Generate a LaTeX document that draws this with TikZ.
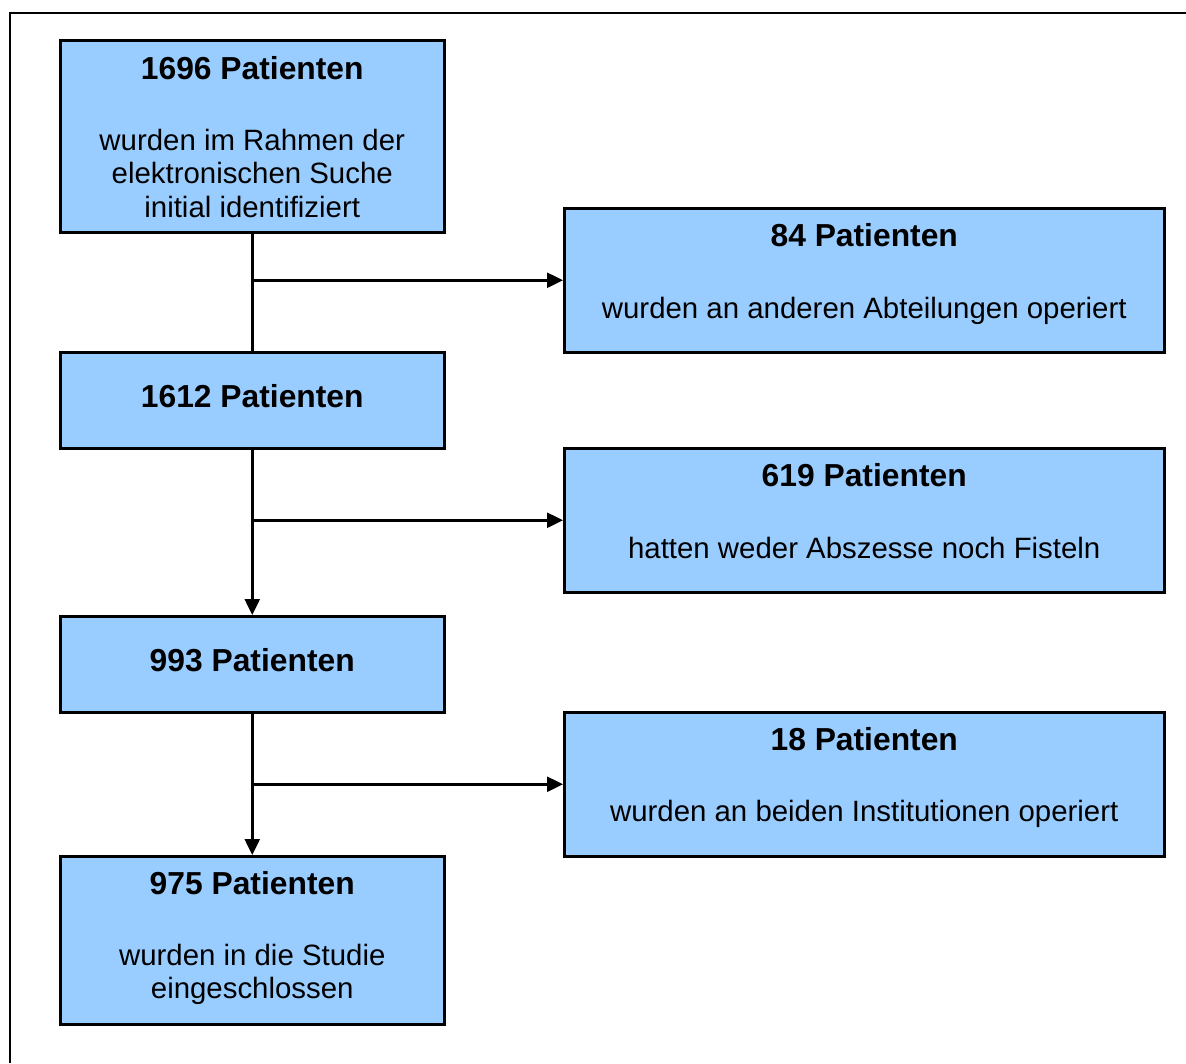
\documentclass[tikz,border=0pt]{standalone}
\usepackage{fontspec}
\setmainfont{Liberation Sans}
\usetikzlibrary{arrows.meta}
\definecolor{boxblue}{HTML}{99CCFF}
\begin{document}
\begin{tikzpicture}[x=1pt,y=-1pt,
  box/.style={draw=black, fill=boxblue, line width=2.5pt, inner sep=0pt, anchor=north west},
  ttl/.style={anchor=base, inner sep=0pt, font=\fontsize{31.8}{36}\selectfont\bfseries},
  txt/.style={anchor=base, inner sep=0pt, font=\fontsize{29.4}{33.5}\selectfont},
  conn/.style={line width=2.5pt},
  arr/.style={conn, -{Triangle[length=16pt,width=15pt]}}]
\useasboundingbox (0,0) rectangle (1186,1063);
\draw[line width=2pt] (10,1063) -- (10,13) -- (1186,13);

% boxes
\node[box, minimum width=384pt, minimum height=192pt] (A) at (59,39) {};
\node[box, minimum width=600pt, minimum height=144pt] (B) at (563,207) {};
\node[box, minimum width=384pt, minimum height=96pt]  (C) at (59,351) {};
\node[box, minimum width=600pt, minimum height=144pt] (D) at (563,447) {};
\node[box, minimum width=384pt, minimum height=96pt]  (E) at (59,615) {};
\node[box, minimum width=600pt, minimum height=144pt] (F) at (563,711) {};
\node[box, minimum width=384pt, minimum height=168pt] (G) at (59,855) {};

% texts
\node[ttl] (At) at ([yshift=-40pt]A.north) {1696 Patienten};
\node[txt] (A1) at ([yshift=-111pt]A.north) {wurden im Rahmen der};
\node[txt] (A2) at ([yshift=-144.5pt]A.north) {elektronischen Suche};
\node[txt] (A3) at ([yshift=-178pt]A.north) {initial identifiziert};

\node[ttl] (Bt) at ([yshift=-39.5pt]B.north) {84 Patienten};
\node[txt] (B1) at ([yshift=-111pt]B.north) {wurden an anderen Abteilungen operiert};

\node[ttl] (Ct) at ([yshift=-56pt]C.north) {1612 Patienten};

\node[ttl] (Dt) at ([yshift=-39.5pt]D.north) {619 Patienten};
\node[txt] (D1) at ([yshift=-111pt]D.north) {hatten weder Abszesse noch Fisteln};

\node[ttl] (Et) at ([yshift=-56pt]E.north) {993 Patienten};

\node[ttl] (Ft) at ([yshift=-39.5pt]F.north) {18 Patienten};
\node[txt] (F1) at ([yshift=-110pt]F.north) {wurden an beiden Institutionen operiert};

\node[ttl] (Gt) at ([yshift=-39pt]G.north) {975 Patienten};
\node[txt] (G1) at ([yshift=-110pt]G.north) {wurden in die Studie};
\node[txt] (G2) at ([yshift=-143.5pt]G.north) {eingeschlossen};

% connectors
\draw[conn] (A.south) -- (C.north);
\draw[arr] (C.south) -- (E.north);
\draw[arr] (E.south) -- (G.north);
\draw[arr] (A.south |- B.west) -- (B.west);
\draw[arr] (C.south |- D.west) -- (D.west);
\draw[arr] (E.south |- F.west) -- (F.west);
\end{tikzpicture}
\end{document}
